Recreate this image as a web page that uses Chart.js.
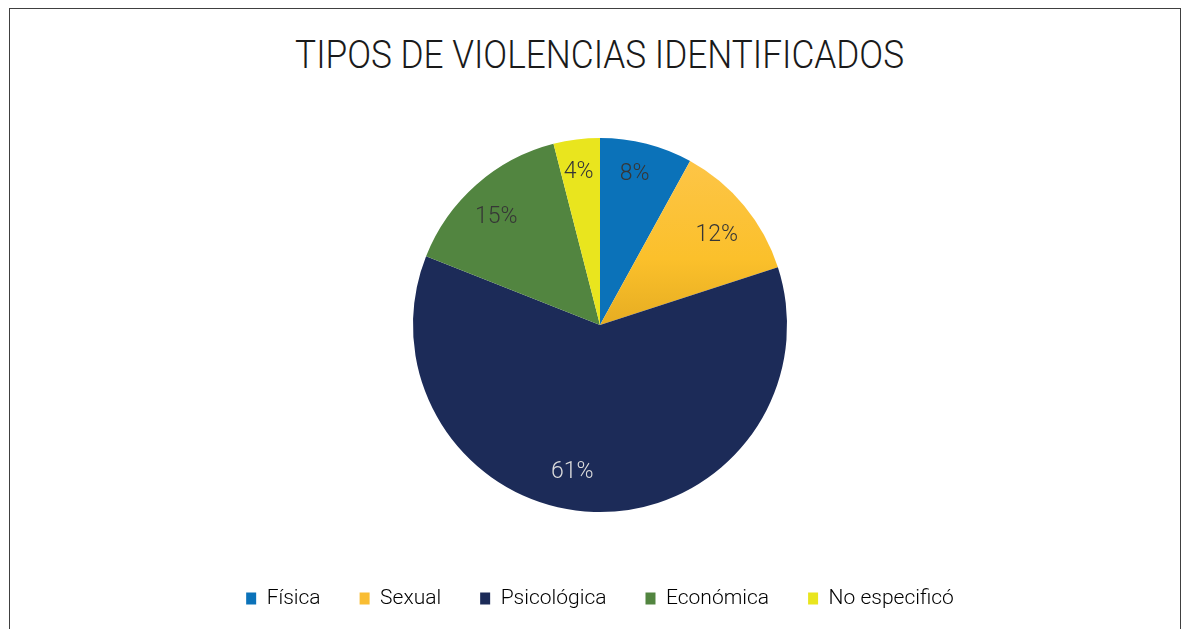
<!DOCTYPE html>
<html lang="es">
<head>
    <meta charset="UTF-8">
    <title>Tipos de violencias identificados</title>
    <script src="https://cdn.jsdelivr.net/npm/chart.js"></script>
    <style>
        html, body {
            margin: 0;
            padding: 0;
            background: #fff;
            overflow: hidden;
        }

        .frame {
            position: absolute;
            left: 9px;
            top: 8px;
            width: 1170px;
            height: 640px;
            border: 1px solid #404040;
            border-bottom: none;
        }

        .title {
            position: absolute;
            left: 18px;
            width: 1164px;
            top: 31px;
            text-align: center;
            font-family: Roboto, sans-serif;
            font-weight: 300;
            font-size: 38px;
            line-height: 48px;
            color: #1a1a1a;
            white-space: nowrap;
        }

        .title span {
            display: inline-block;
            transform-origin: center;
        }

        .chart-box {
            position: absolute;
            left: 0;
            top: 0;
            width: 1182px;
            height: 629px;
        }
    </style>
</head>
<body>
    <div class="frame"></div>
    <div class="title"><span id="title">TIPOS DE VIOLENCIAS IDENTIFICADOS</span></div>
    <div class="chart-box">
        <canvas id="myChart" width="1182" height="629"></canvas>
    </div>

    <script>
        const categories = ['Física', 'Sexual', 'Psicológica', 'Económica', 'No especificó'];
        const percentages = [8, 12, 61, 15, 4];
        const sliceColors = ['#0b72b9', '#fcc23d', '#1c2b58', '#528540', '#e9e51e'];
        const labelColors = ['#363636', '#363636', '#dcdcdc', '#363636', '#363636'];
        // small hand nudges of the % labels, like the original's placement
        const labelNudgeX = [-4, 3, -23, -6, -2];
        const labelNudgeY = [0, 4, 0, 3, 1];

        // squeeze the title so it looks like the condensed face of the original
        const titleEl = document.getElementById('title');
        const tw = titleEl.getBoundingClientRect().width;
        titleEl.style.transform = 'scaleX(' + (609 / tw) + ')';

        function sliceFill(context) {
            const i = context.dataIndex;
            if (i !== 1) return sliceColors[i];
            const area = context.chart.chartArea;
            if (!area) return sliceColors[i];
            const cy = (area.top + area.bottom) / 2;
            const g = context.chart.ctx.createLinearGradient(0, cy - 165, 0, cy);
            g.addColorStop(0, '#fdc547');
            g.addColorStop(0.6, '#fbc02b');
            g.addColorStop(1, '#e6ad22');
            return g;
        }

        const pieLabels = {
            id: 'pieLabels',
            afterDatasetsDraw(chart) {
                const ctx = chart.ctx;
                const meta = chart.getDatasetMeta(0);
                ctx.save();
                ctx.font = '300 23px Roboto, sans-serif';
                ctx.textAlign = 'center';
                ctx.textBaseline = 'middle';
                meta.data.forEach((arc, i) => {
                    const p = arc.getProps(['x', 'y', 'startAngle', 'endAngle', 'outerRadius'], true);
                    const mid = (p.startAngle + p.endAngle) / 2;
                    const r = p.outerRadius * (percentages[i] < 10 ? 0.83 : 0.79);
                    ctx.fillStyle = labelColors[i];
                    ctx.fillText(percentages[i] + '%',
                        p.x + Math.cos(mid) * r + labelNudgeX[i],
                        p.y + Math.sin(mid) * r + labelNudgeY[i]);
                });
                ctx.restore();
            }
        };

        new Chart(document.getElementById('myChart'), {
            type: 'pie',
            data: {
                labels: categories,
                datasets: [{
                    data: percentages,
                    backgroundColor: sliceFill,
                    borderWidth: 0,
                    radius: '83.5%'
                }]
            },
            options: {
                responsive: false,
                animation: false,
                layout: {
                    padding: { top: 101, bottom: 10, left: 18 }
                },
                plugins: {
                    tooltip: { enabled: false },
                    legend: {
                        position: 'bottom',
                        labels: {
                            boxWidth: 10,
                            boxHeight: 12,
                            padding: 39,
                            color: '#333333',
                            font: { family: 'Roboto, sans-serif', size: 21, weight: '300' },
                            generateLabels(chart) {
                                return categories.map((c, i) => ({
                                    text: c,
                                    fillStyle: i === 1 ? '#f9bd33' : sliceColors[i],
                                    strokeStyle: 'transparent',
                                    lineWidth: 0,
                                    index: i
                                }));
                            }
                        }
                    }
                }
            },
            plugins: [pieLabels]
        });
    </script>
</body>
</html>
